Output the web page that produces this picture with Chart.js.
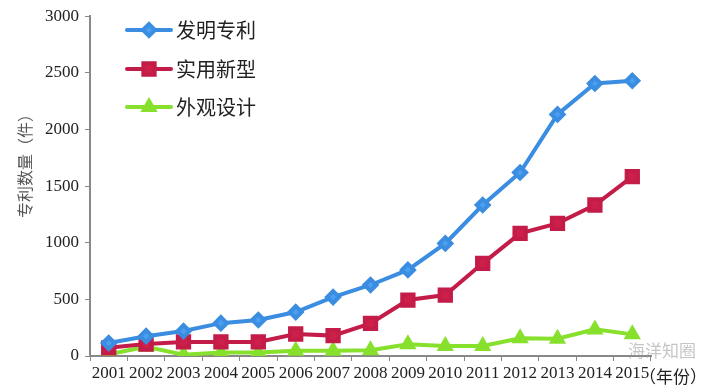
<!DOCTYPE html>
<html>
<head>
<meta charset="utf-8">
<script src="https://cdn.jsdelivr.net/npm/chart.js@4"></script>
<style>
	html, body { margin: 0; padding: 0; background: #fff; }
	#wrap { width: 720px; height: 387px; position: relative; }
</style>
</head>
<body>
<div id="wrap"><canvas id="graph_patent"></canvas></div>
<script>
var years = ["2001", "2002", "2003", "2004", "2005", "2006", "2007", "2008", "2009", "2010", "2011", "2012", "2013", "2014", "2015"];
var invention = [115, 175, 220, 290, 318, 388, 520, 627, 760, 994, 1333, 1620, 2133, 2406, 2430];
var utility = [72, 106, 124, 124, 124, 194, 180, 288, 494, 538, 818, 1083, 1171, 1333, 1583];
var design = [15, 82, 12, 30, 30, 47, 47, 50, 103, 88, 88, 156, 153, 235, 191];
var y_ticks = [0, 500, 1000, 1500, 2000, 2500, 3000];

var graph_chart_patent;

// legend drawn inside the plot, stacked at the top left; plus the extra texts
var inner_legend = {
	id: 'inner_legend',
	afterDraw: function(chart){
		var ctx = chart.ctx;
		var rows = [30, 69, 107];
		ctx.save();
		chart.data.datasets.forEach(function(ds, i){
			var y = rows[i];
			ctx.strokeStyle = ds.borderColor;
			ctx.lineWidth = 4;
			ctx.lineCap = 'round';
			ctx.beginPath();
			ctx.moveTo(127, y);
			ctx.lineTo(171, y);
			ctx.stroke();
			ctx.fillStyle = ds.backgroundColor;
			ctx.strokeStyle = ds.borderColor;
			Chart.helpers.drawPoint(ctx, {pointStyle: ds.pointStyle, radius: ds.pointRadius, rotation: 0, borderWidth: 1}, 149, y);
			ctx.fillStyle = '#222';
			ctx.font = '20px "Noto Sans CJK SC"';
			ctx.textBaseline = 'middle';
			ctx.textAlign = 'left';
			ctx.fillText(ds.label, 176, y);
		});
		// unit after the last year
		ctx.font = '17px "Noto Sans CJK SC"';
		ctx.fillStyle = '#222';
		ctx.fillText('（年份）', 639, 377);
		// watermark
		ctx.font = '17px "Noto Sans CJK SC"';
		ctx.fillStyle = 'rgba(150,150,150,0.55)';
		ctx.fillText('海洋知圈', 628, 351);
		// y axis title
		ctx.translate(25, 162);
		ctx.rotate(-Math.PI / 2);
		ctx.textAlign = 'center';
		ctx.fillStyle = '#555';
		ctx.font = '16px "Noto Sans CJK SC"';
		ctx.fillText('专利数量（件）', 0, 0);
		ctx.restore();
	}
};

var graph_patent_config = {
	type: 'line',
	data: {
		labels: years,
		datasets: [{
			label: '发明专利',
			data: invention,
			borderColor: '#3a8de0',
			backgroundColor: '#4a9ff0',
			pointStyle: 'rectRot',
			pointRadius: 6,
			borderWidth: 4,
			fill: false
		},{
			label: '实用新型',
			data: utility,
			borderColor: '#c41c48',
			backgroundColor: '#cc1f4a',
			pointStyle: 'rect',
			pointRadius: 8,
			borderWidth: 4,
			fill: false
		},{
			label: '外观设计',
			data: design,
			borderColor: '#86e02c',
			backgroundColor: '#86e02c',
			pointStyle: 'triangle',
			pointRadius: 6,
			borderWidth: 4,
			fill: false
		}]
	},
	options: {
		animation: false,
		responsive: true,
		maintainAspectRatio: false,
		layout: {
			padding: { top: 16, right: 69, left: 0, bottom: 0 }
		},
		scales: {
			x: {
				offset: true,
				ticks: {
					font: { size: 17, family: 'Liberation Serif' },
					color: '#222',
					padding: 2,
					maxRotation: 0,
					autoSkip: false
				},
				grid: {
					offset: true,
					drawOnChartArea: false,
					drawTicks: true,
					tickLength: 5,
					color: '#888'
				},
				border: { color: '#888', width: 2 },
				afterFit: function(scale){ scale.height = 31; }
			},
			y: {
				min: 0,
				max: 3000,
				afterBuildTicks: function(scale){
					scale.ticks = y_ticks.map(function(v){ return {value: v}; });
				},
				ticks: {
					font: { size: 17, family: 'Liberation Serif' },
					color: '#222',
					padding: 6,
					callback: function(value){ return String(value); }
				},
				grid: {
					drawOnChartArea: false,
					drawTicks: true,
					tickLength: 5,
					color: '#888'
				},
				border: { color: '#888', width: 2 },
				afterFit: function(scale){ scale.width = 90; }
			}
		},
		plugins: {
			legend: { display: false },
			tooltip: { enabled: false }
		},
		elements: {
			line: { tension: 0 }
		}
	},
	plugins: [inner_legend]
};

graph_chart_patent = new Chart(document.getElementById("graph_patent").getContext('2d'), graph_patent_config);
</script>
</body>
</html>
